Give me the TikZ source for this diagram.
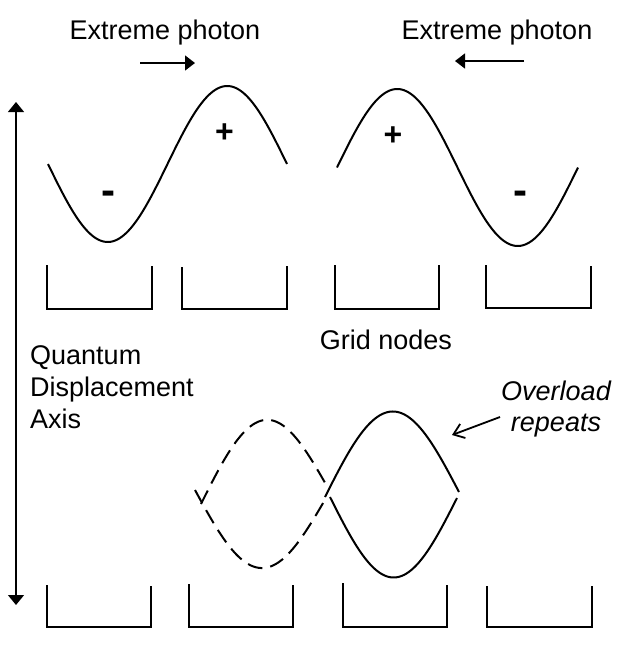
\documentclass[tikz,border=0pt]{standalone}
\usepackage{fontspec}
\setmainfont{Liberation Sans}
\usetikzlibrary{arrows.meta}
\begin{document}
\begin{tikzpicture}[x=1pt,y=-1pt,
  wave/.style={line width=2pt},
  dashwave/.style={line width=2pt, dash pattern=on 15pt off 8pt},
  bracket/.style={line width=2pt},
  lbl/.style={font=\fontsize{27}{32}\selectfont, inner sep=0pt},
  plussign/.style={font=\fontsize{32}{36}\selectfont\bfseries, inner sep=0pt, anchor=base},
  minussign/.style={font=\fontsize{42}{46}\selectfont\bfseries, inner sep=0pt, anchor=base},
  arr/.style={line width=1.5pt, -{Triangle[length=10pt,width=15pt]}},
  axisarr/.style={line width=1.3pt, {Triangle[length=10pt,width=16pt]}-{Triangle[length=10pt,width=16pt]}},
  barb/.style={line width=1.8pt, -{Straight Barb[length=10pt,width=15pt]}},
]
\useasboundingbox (0,0) rectangle (626,649);

% labels
\node[lbl, anchor=base] (ep1) at (165,39.5) {Extreme photon};
\node[lbl, anchor=base] (ep2) at (497,39.5) {Extreme photon};
\node[lbl, anchor=base] (grid) at (386,349) {Grid nodes};
\node[lbl, anchor=north west, align=left] (qda) at (30,345) {Quantum\\Displacement\\Axis};
\node[lbl, anchor=north, align=center, font=\fontsize{27}{31}\selectfont\itshape] (ovl) at (556,381) {Overload\\repeats};

% direction arrows
\coordinate (a1s) at (140,63); \coordinate (a1e) at (195,63);
\coordinate (a2s) at (524,61); \coordinate (a2e) at (455,61);
\draw[arr] (a1s) -- (a1e);
\draw[arr] (a2s) -- (a2e);

% vertical axis
\coordinate (axt) at (16,102); \coordinate (axb) at (16,605);
\draw[axisarr] (axt) -- (axb);

% top waves
\draw[wave] plot[domain=48:287, samples=120, smooth] (\x, {164+78*sin((\x-48)/239*360)});
\draw[wave] plot[domain=337:578, samples=120, smooth] (\x, {167.5-78.5*sin((\x-337)/241*360)});

% signs
\node[minussign] (m1) at (108.5,204) {-};
\node[plussign] (p1) at (224.5,142.5) {+};
\node[plussign] (p2) at (393,145) {+};
\node[minussign] (m2) at (520,204) {-};

% top brackets
\draw[bracket] (47,265) |- (152,309) -- (152,266);
\draw[bracket] (182,267) |- (287,309) -- (287,266);
\draw[bracket] (335,265) |- (439,309) -- (439,265);
\draw[bracket] (486,265) |- (591,308) -- (591,266);

% bottom brackets
\draw[bracket] (47,585) |- (151,627) -- (151,586);
\draw[bracket] (189,584) |- (293,627) -- (293,585);
\draw[bracket] (343,583) |- (447,627) -- (447,585);
\draw[bracket] (487,586) |- (592,627) -- (592,586);

% dashed loop
\draw[dashwave] plot[domain=201:328, samples=80, smooth] (\x, {504-16*((\x-201)/127)-76*sin((\x-201)/127*180)});
\draw[dashwave] plot[domain=195:326, samples=80, smooth] (\x, {490+8*((\x-195)/131)+74*sin((\x-195)/131*180)});

% solid loop
\draw[wave] plot[domain=325:459, samples=80, smooth] (\x, {497-5*((\x-325)/134)-83*sin((\x-325)/134*180)});
\draw[wave] plot[domain=330:457, samples=80, smooth] (\x, {497+1*((\x-330)/127)+80*sin((\x-330)/127*180)});

% overload arrow
\coordinate (ovs) at (500,417); \coordinate (ove) at (452,435);
\draw[barb] (ovs) -- (ove);
\end{tikzpicture}
\end{document}
